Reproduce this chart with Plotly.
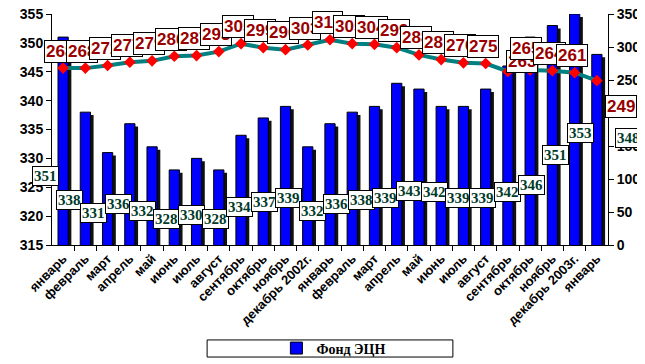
import plotly.graph_objects as go

months = ["январь", "февраль", "март", "апрель", "май", "июнь", "июль", "август",
          "сентябрь", "октябрь", "ноябрь", "декабрь 2002г.",
          "январь", "февраль", "март", "апрель", "май", "июнь", "июль", "август",
          "сентябрь", "октябрь", "ноябрь", "декабрь 2003г.", "январь"]

fond_ecn = [351, 338, 331, 336, 332, 328, 330, 328, 334, 337, 339, 332,
            336, 338, 339, 343, 342, 339, 339, 342, 346, 351, 353, 355, 348]

line_values = [268, 268, 272, 277, 279, 286, 287, 293, 305, 299, 296, 303,
               311, 305, 304, 299, 288, 281, 276, 275, 263, 265, 264, 261, 249]

series_name = "Фонд ЭЦН"

# label placement tweaks (layout only)
hidden_bar_labels = {23}
bar_label_yshift = {21: 21, 22: 39, 24: 43}
line_label_shift = {20: (14, 10), 21: (-4, 22), 24: (24, -26)}

x = list(range(len(months)))
BAR_W = 0.46

fig = go.Figure()

# shadow of bars
fig.add_trace(go.Bar(
    x=x, y=[v - 0.5 for v in fond_ecn], width=BAR_W, offset=-BAR_W / 2 + 0.14,
    marker=dict(color="#111111", line=dict(width=0)),
    showlegend=False, hoverinfo="skip", xaxis="x", yaxis="y"))

fig.add_trace(go.Bar(
    x=x, y=fond_ecn, width=BAR_W, offset=-BAR_W / 2, name=series_name,
    marker=dict(color="#0000FF", line=dict(color="black", width=1)),
    xaxis="x", yaxis="y"))

fig.add_trace(go.Scatter(
    x=x, y=line_values, mode="lines+markers", showlegend=False,
    line=dict(color="#008080", width=4),
    marker=dict(symbol="diamond", size=9, color="#FF0000"),
    xaxis="x", yaxis="y2"))

annotations = []
for i, v in enumerate(line_values):
    xs, ys = line_label_shift.get(i, (-3, 17))
    annotations.append(dict(
        x=i, y=v, xref="x", yref="y2", text=str(v), showarrow=False,
        xshift=xs, yshift=ys,
        font=dict(family="Liberation Sans", size=17, color="#990000", weight="bold"),
        bgcolor="white", bordercolor="black", borderwidth=1, borderpad=1))

for i, v in enumerate(fond_ecn):
    if i in hidden_bar_labels:
        continue
    annotations.append(dict(
        x=i, y=v, xref="x", yref="y3", text=str(v), showarrow=False,
        xshift=-18 + 2.08 * i,
        yshift=bar_label_yshift.get(i, 0),
        font=dict(family="Liberation Serif", size=15, color="#003A2A", weight="bold"),
        bgcolor="white", bordercolor="black", borderwidth=1, borderpad=1))

axis_font = dict(family="Liberation Sans", size=14, color="black", weight="bold")

# the page body adds an 8px margin: size the figure so the plot area lands
# at x 52..600, y 14..245 of the window
fig.update_layout(
    width=637, height=356,
    margin=dict(l=44, r=37, t=6, b=119, autoexpand=False),
    paper_bgcolor="white", plot_bgcolor="white",
    barmode="overlay",
    showlegend=True,
    xaxis=dict(
        range=[-0.5, len(months) - 0.5], tickmode="array", tickvals=x, ticktext=months,
        tickangle=-45, ticks="", showline=True, linecolor="black", linewidth=1,
        showgrid=False, zeroline=False, automargin=False, ticklabeloverflow="allow",
        tickfont=dict(family="Liberation Sans", size=13, color="black", weight="bold"),
        minor=dict(tickmode="array", tickvals=[i + 0.5 for i in x[:-1]],
                   ticks="outside", ticklen=5, tickcolor="black", showgrid=False)),
    yaxis=dict(
        range=[315, 355], dtick=5, ticks="outside", ticklen=5, tickcolor="black",
        showline=True, linecolor="black", linewidth=1, showgrid=False, zeroline=False,
        automargin=False, ticklabeloverflow="allow", tickfont=axis_font),
    yaxis2=dict(
        range=[0, 350], dtick=50, overlaying="y", side="right", ticks="outside",
        ticklen=5, tickcolor="black", showline=True, linecolor="black", linewidth=1,
        showgrid=False, zeroline=False, automargin=False, ticklabeloverflow="allow",
        tickfont=axis_font),
    yaxis3=dict(range=[314, 437], overlaying="y", visible=False),
    legend=dict(
        orientation="h", x=0.507, y=-0.448, xanchor="center", yanchor="middle",
        font=dict(family="Liberation Serif", size=14, color="black", weight="bold"),
        bgcolor="rgba(0,0,0,0)", borderwidth=0),
    shapes=[dict(type="rect", xref="paper", yref="paper", x0=0.279, x1=0.721,
                 y0=-0.485, y1=-0.411, line=dict(color="black", width=1))],
    annotations=annotations,
)

fig.write_html("out.html")
